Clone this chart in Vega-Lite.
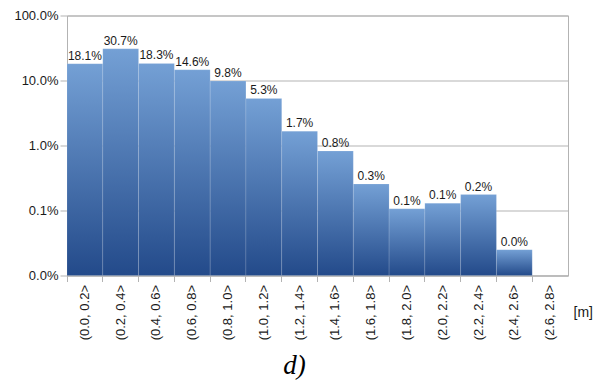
{
  "$schema": "https://vega.github.io/schema/vega-lite/v6.json",
  "autosize": {"type": "none"},
  "padding": {"left": 67, "top": 15.5, "right": 27, "bottom": 105.5},
  "width": 501,
  "height": 260,
  "background": "white",
  "config": {
    "font": "Liberation Sans",
    "view": {"stroke": "#b3b3b3", "strokeWidth": 1}
  },
  "title": {
    "text": "d)",
    "orient": "bottom",
    "font": "Liberation Serif",
    "fontStyle": "italic",
    "fontWeight": "normal",
    "fontSize": 27,
    "color": "#000000",
    "anchor": "middle",
    "dx": -23,
    "offset": 13
  },
  "data": {
    "values": [
      {"bin": "(0.0, 0.2>", "share": 0.181},
      {"bin": "(0.2, 0.4>", "share": 0.307},
      {"bin": "(0.4, 0.6>", "share": 0.183},
      {"bin": "(0.6, 0.8>", "share": 0.146},
      {"bin": "(0.8, 1.0>", "share": 0.098},
      {"bin": "(1.0, 1.2>", "share": 0.053},
      {"bin": "(1.2, 1.4>", "share": 0.0166},
      {"bin": "(1.4, 1.6>", "share": 0.0082},
      {"bin": "(1.6, 1.8>", "share": 0.00255},
      {"bin": "(1.8, 2.0>", "share": 0.00106},
      {"bin": "(2.0, 2.2>", "share": 0.00129},
      {"bin": "(2.2, 2.4>", "share": 0.00176},
      {"bin": "(2.4, 2.6>", "share": 0.00025},
      {"bin": "(2.6, 2.8>", "share": null}
    ]
  },
  "encoding": {
    "x": {
      "field": "bin",
      "type": "nominal",
      "sort": null,
      "scale": {
        "paddingInner": 0, "paddingOuter": 0,
        "domain": ["(0.0, 0.2>", "(0.2, 0.4>", "(0.4, 0.6>", "(0.6, 0.8>", "(0.8, 1.0>", "(1.0, 1.2>", "(1.2, 1.4>", "(1.4, 1.6>", "(1.6, 1.8>", "(1.8, 2.0>", "(2.0, 2.2>", "(2.2, 2.4>", "(2.4, 2.6>", "(2.6, 2.8>"]
      },
      "axis": {
        "title": "[m]",
        "titleFont": "Liberation Sans",
        "titleFontSize": 14,
        "titleFontWeight": "normal",
        "titleColor": "#1a1a1a",
        "titleAngle": 0,
        "titleAnchor": "end",
        "titleAlign": "left",
        "titleBaseline": "middle",
        "titleX": 506,
        "titleY": 37,
        "labelAngle": -90,
        "labelAlign": "right",
        "labelBaseline": "middle",
        "labelFontSize": 13,
        "labelColor": "#1a1a1a",
        "labelPadding": 3,
        "bandPosition": 0,
        "domainColor": "#b3b3b3",
        "tickColor": "#b3b3b3",
        "tickSize": 6,
        "grid": false
      }
    }
  },
  "layer": [
    {
      "mark": {
        "type": "bar",
        "fill": {
          "gradient": "linear",
          "x1": 0, "y1": 0, "x2": 0, "y2": 1,
          "stops": [
            {"offset": 0, "color": "#74a0d5"},
            {"offset": 1, "color": "#234a8a"}
          ]
        },
        "stroke": "#ffffff",
        "strokeOpacity": 0.12,
        "strokeWidth": 1
      },
      "encoding": {
        "y": {
          "field": "share",
          "type": "quantitative",
          "scale": {"type": "log", "domain": [0.0001, 1], "nice": false},
          "axis": {
            "title": null,
            "values": [0.0001, 0.001, 0.01, 0.1, 1],
            "format": ".1%",
            "labelFontSize": 13,
            "labelColor": "#1a1a1a",
            "labelPadding": 2,
            "tickSize": 7,
            "tickColor": "#b3b3b3",
            "domainColor": "#b3b3b3",
            "gridColor": "#b3b3b3",
            "gridWidth": 1
          }
        },
        "y2": {"datum": 0.0001}
      }
    },
    {
      "mark": {
        "type": "text",
        "baseline": "alphabetic",
        "align": "center",
        "dy": -4,
        "fontSize": 12,
        "color": "#1a1a1a"
      },
      "encoding": {
        "y": {"field": "share", "type": "quantitative"},
        "text": {"field": "share", "type": "quantitative", "format": ".1%"}
      }
    }
  ]
}
